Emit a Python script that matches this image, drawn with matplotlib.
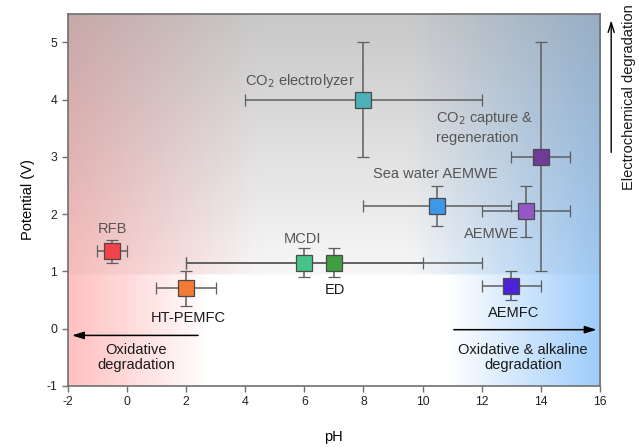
import matplotlib
matplotlib.use("Agg")
import matplotlib.pyplot as plt
import numpy as np

plt.rcParams['font.family'] = ['Liberation Sans', 'DejaVu Sans']
plt.rcParams['axes.unicode_minus'] = False

# data
names = ["RFB", "HT-PEMFC", "MCDI", "ED", "CO2 electrolyzer", "Sea water AEMWE",
         "AEMWE", "CO2 capture", "AEMFC"]
ph = [-0.5, 2.0, 6.0, 7.0, 8.0, 10.5, 13.5, 14.0, 13.0]
ph_lo = [-1.0, 1.0, 2.0, 2.0, 4.0, 8.0, 12.0, 13.0, 12.0]
ph_hi = [0.0, 3.0, 10.0, 12.0, 12.0, 13.0, 15.0, 15.0, 14.0]
volt = [1.35, 0.7, 1.15, 1.15, 4.0, 2.15, 2.05, 3.0, 0.75]
volt_lo = [1.15, 0.4, 0.9, 0.9, 3.0, 1.8, 1.6, 1.0, 0.5]
volt_hi = [1.55, 1.0, 1.4, 1.4, 5.0, 2.5, 2.5, 5.0, 1.0]
colors = ["#f2434d", "#f47a38", "#45c48a", "#3f9e40", "#4bb0b9", "#3d97ea",
          "#9358c6", "#6e3b98", "#4a22d8"]

fg = plt.figure(figsize=(6.39, 4.47), dpi=100)
ax = fg.add_axes([0.106, 0.137, 0.833, 0.832])

# background gradients
xmin, xmax, ymin, ymax, split = -2, 16, -1, 5.5, 0.95
xs = np.linspace(xmin, xmax, 600)
ys = np.linspace(ymin, ymax, 400)
X, Y = np.meshgrid(xs, ys)
red = np.array([255, 192, 192]) / 255
blue = np.array([158, 204, 250]) / 255
white = np.ones(3)

wr_b = np.clip((2.8 - X) / 4.8, 0, 1)[..., None]
wb_b = np.clip((X - 10.8) / 5.2, 0, 1)[..., None]
bottom = white * (1 - wr_b - wb_b) + red * wr_b + blue * wb_b

wr_t = np.clip((4.5 - X) / 6.5, 0, 1)[..., None]
wb_t = np.clip((X - 9.5) / 6.5, 0, 1)[..., None]
top = white * (1 - wr_t - wb_t) + red * wr_t + blue * wb_t
alpha = (0.07 + 0.42 * (Y - split) / (ymax - split))[..., None]
top = top * (1 - alpha) + 0.56 * alpha

img = np.where((Y > split)[..., None], top, bottom)
ax.imshow(img, extent=(xmin, xmax, ymin, ymax), origin='lower', aspect='auto',
          zorder=0, interpolation='bilinear')

for i in range(len(names)):
    xerr = [[ph[i] - ph_lo[i]], [ph_hi[i] - ph[i]]]
    yerr = [[volt[i] - volt_lo[i]], [volt_hi[i] - volt[i]]]
    ax.errorbar([ph[i]], [volt[i]], xerr=xerr, yerr=yerr, fmt='s',
                color=colors[i], ms=11.5, mec='#4a4a4a', mew=0.9,
                ecolor='#5e5e5e', elinewidth=1.1, capsize=4.3, capthick=1.1,
                zorder=3)

gray = '#555555'
dark = '#1a1a1a'
fs = 10.5
ax.text(-0.5, 1.74, "RFB", color=gray, fontsize=fs, ha='center', va='center')
ax.text(2.06, 0.19, "HT-PEMFC", color=dark, fontsize=fs, ha='center', va='center')
ax.text(5.94, 1.57, "MCDI", color=gray, fontsize=fs, ha='center', va='center')
ax.text(7.03, 0.68, "ED", color=dark, fontsize=fs, ha='center', va='center')
ax.text(4.0, 4.33, "CO$_2$ electrolyzer", color=gray, fontsize=fs, ha='left', va='center')
ax.text(10.47, 3.51, "CO$_2$ capture &\nregeneration", color=gray, fontsize=fs,
        ha='left', va='center', linespacing=1.35)
ax.text(10.44, 2.7, "Sea water AEMWE", color=gray, fontsize=fs, ha='center', va='center')
ax.text(12.35, 1.66, "AEMWE", color=gray, fontsize=fs, ha='center', va='center')
ax.text(13.07, 0.27, "AEMFC", color=dark, fontsize=fs, ha='center', va='center')

ax.annotate("", xy=(-1.95, -0.12), xytext=(2.5, -0.12),
            arrowprops=dict(arrowstyle='-|>,head_length=0.7,head_width=0.22',
                            color='black', lw=1.1))
ax.annotate("", xy=(15.98, -0.02), xytext=(10.96, -0.02),
            arrowprops=dict(arrowstyle='-|>,head_length=0.7,head_width=0.22',
                            color='black', lw=1.1))
ax.text(0.32, -0.51, "Oxidative\ndegradation", color=dark, fontsize=fs,
        ha='center', va='center', linespacing=1.1)
ax.text(13.4, -0.5, "Oxidative & alkaline\ndegradation", color=dark, fontsize=fs,
        ha='center', va='center', linespacing=1.1)

ax.annotate("", xy=(1.021, 0.99), xytext=(1.021, 0.62), xycoords='axes fraction',
            annotation_clip=False,
            arrowprops=dict(arrowstyle='->,head_length=0.7,head_width=0.22',
                            color='black', lw=1.0))
ax.text(1.055, 0.777, "Electrochemical degradation", transform=ax.transAxes,
        rotation=90, ha='center', va='center', fontsize=fs, color=dark)

ax.set_xlim(xmin, xmax)
ax.set_ylim(ymin, ymax)
ax.set_xticks(range(-2, 17, 2))
ax.set_yticks(range(-1, 6))
ax.tick_params(direction='out', length=4, width=1, color='#707070',
               labelsize=8.7, labelcolor='#222222')
for s in ax.spines.values():
    s.set_color('#707070')
    s.set_linewidth(1.2)
ax.set_xlabel("pH", fontsize=10.5, labelpad=16)
ax.set_ylabel("Potential (V)", fontsize=10.5, labelpad=8)

fg.savefig("out.png", dpi=100)
